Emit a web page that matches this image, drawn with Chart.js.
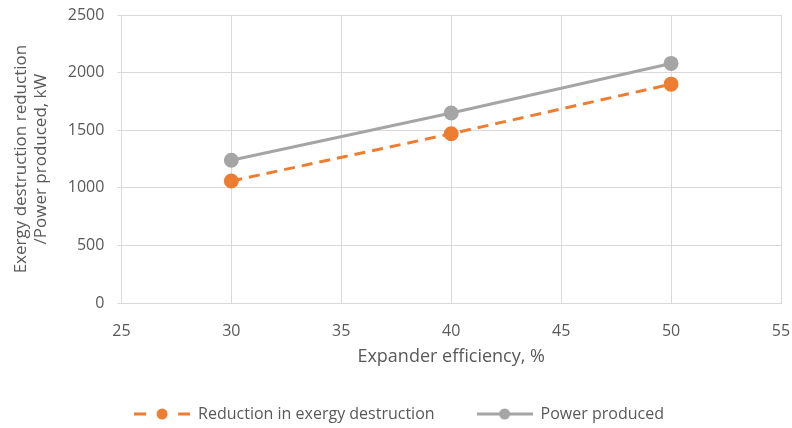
<!DOCTYPE html>
<html>
<head>
<meta charset="utf-8">
<script src="https://cdn.jsdelivr.net/npm/chart.js@4"></script>
<style>
  html, body { margin: 0; padding: 0; background: #ffffff; }
  #wrap { width: 792px; height: 428px; }
</style>
</head>
<body>
<div id="wrap"><canvas id="chart" width="792" height="428"></canvas></div>
<script>
var efficiency = [30, 40, 50];
var reductionInExergyDestruction = [1060, 1470, 1900];
var powerProduced = [1240, 1650, 2080];
var seriesNames = ["Reduction in exergy destruction", "Power produced"];

var orange = "#ED7D31";
var grey = "#A5A5A5";
var textColor = "#595959";

// little line + dot picture for the legend entries
function legendMark(color, dashed) {
  var c = document.createElement("canvas");
  c.width = 56;
  c.height = 14;
  var ctx = c.getContext("2d");
  ctx.strokeStyle = color;
  ctx.lineWidth = 3;
  ctx.beginPath();
  if (dashed) {
    ctx.moveTo(0, 7);
    ctx.lineTo(12, 7);
    ctx.moveTo(44, 7);
    ctx.lineTo(56, 7);
  } else {
    ctx.moveTo(0, 7);
    ctx.lineTo(56, 7);
  }
  ctx.stroke();
  ctx.fillStyle = color;
  ctx.beginPath();
  ctx.arc(28, 7, 5.5, 0, Math.PI * 2);
  ctx.fill();
  return c;
}

// nudge the legend a few px right like in the original
var legendShift = {
  id: "legendShift",
  afterLayout: function(chart) {
    chart.legend.left += 3;
    chart.legend.right += 3;
  }
};

new Chart(document.getElementById("chart"), {
  type: "line",
  plugins: [legendShift],
  data: {
    datasets: [
      {
        label: seriesNames[0],
        data: efficiency.map((x, i) => ({ x: x, y: reductionInExergyDestruction[i] })),
        borderColor: orange,
        backgroundColor: orange,
        borderWidth: 3,
        borderDash: [11, 7],
        pointRadius: 6,
        pointHoverRadius: 6,
        pointStyle: "circle",
        order: 2
      },
      {
        label: seriesNames[1],
        data: efficiency.map((x, i) => ({ x: x, y: powerProduced[i] })),
        borderColor: grey,
        backgroundColor: grey,
        borderWidth: 3,
        pointRadius: 6,
        pointHoverRadius: 6,
        pointStyle: "circle",
        order: 1
      }
    ]
  },
  options: {
    responsive: false,
    animation: false,
    devicePixelRatio: 1,
    layout: { padding: { left: 11, right: 11, top: 15, bottom: -4 } },
    plugins: {
      tooltip: { enabled: false },
      legend: {
        position: "bottom",
        labels: {
          color: textColor,
          font: { family: "Open Sans", size: 16 },
          usePointStyle: true,
          pointStyleWidth: 56,
          padding: 42,
          generateLabels: function(chart) {
            return chart.data.datasets.map((ds, i) => ({
              text: ds.label,
              pointStyle: legendMark(ds.borderColor, i === 0),
              fillStyle: ds.borderColor,
              strokeStyle: ds.borderColor,
              lineWidth: 0,
              fontColor: textColor,
              datasetIndex: i
            }));
          }
        }
      }
    },
    scales: {
      x: {
        type: "linear",
        min: 25,
        max: 55,
        afterFit: function(scale) {
          scale.paddingRight = 0;
        },
        ticks: { stepSize: 5, color: textColor, font: { family: "Open Sans", size: 16 }, padding: 19 },
        grid: { color: "#D9D9D9", lineWidth: 1, drawTicks: false },
        border: { color: "#D9D9D9" },
        title: {
          display: true,
          text: "Expander efficiency, %",
          color: textColor,
          font: { family: "Open Sans", size: 18 },
          padding: { top: -14, bottom: -4 }
        }
      },
      y: {
        min: 0,
        max: 2500,
        afterFit: function(scale) {
          scale.paddingTop = 0;
        },
        ticks: {
          stepSize: 500,
          color: textColor,
          font: { family: "Open Sans", size: 16 },
          padding: 13,
          callback: function(value) {
            return String(value);
          }
        },
        grid: { color: "#D9D9D9", lineWidth: 1, tickLength: 4 },
        border: { color: "#D9D9D9" },
        title: {
          display: true,
          text: ["Exergy destruction reduction", "/Power produced, kW"],
          color: textColor,
          font: { family: "Open Sans", size: 17, lineHeight: 1.2 },
          padding: { top: 0, bottom: 3 }
        }
      }
    }
  }
});
</script>
</body>
</html>
